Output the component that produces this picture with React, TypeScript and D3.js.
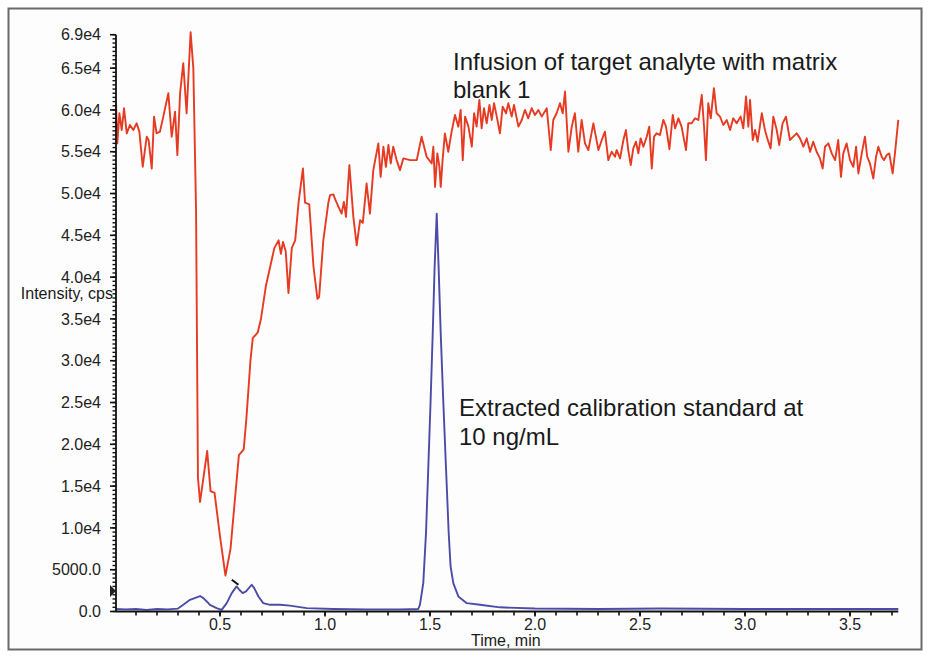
import React from 'react';
import * as d3 from 'd3';

// [time (min), intensity (thousand cps)]
const redTrace: [number, number][] = [
  [0.005, 60.8], [0.011, 56.0], [0.021, 59.6], [0.032, 57.6], [0.043, 60.2], [0.056, 57.2],
  [0.071, 58.2], [0.087, 57.6], [0.103, 58.4], [0.116, 57.4], [0.132, 53.2], [0.151, 56.8],
  [0.160, 56.4], [0.175, 53.0], [0.186, 59.2], [0.198, 57.2], [0.214, 57.4], [0.230, 59.2],
  [0.254, 62.0], [0.270, 56.8], [0.286, 59.8], [0.297, 54.6], [0.310, 62.0], [0.325, 65.6],
  [0.341, 59.6], [0.360, 69.3], [0.373, 65.0], [0.386, 48.0], [0.395, 16.0], [0.405, 13.1],
  [0.439, 19.2], [0.455, 14.4], [0.474, 14.2], [0.500, 9.0], [0.526, 4.3], [0.550, 7.5],
  [0.590, 18.7], [0.613, 19.4], [0.626, 23.2], [0.645, 30.0], [0.656, 32.7], [0.680, 33.4],
  [0.695, 35.0], [0.719, 39.0], [0.735, 40.8], [0.759, 43.5], [0.779, 44.4], [0.790, 42.8],
  [0.800, 44.2], [0.813, 43.1], [0.826, 38.1], [0.842, 43.5], [0.858, 44.4], [0.874, 48.9],
  [0.895, 53.0], [0.905, 48.9], [0.925, 48.7], [0.945, 41.3], [0.964, 37.4], [0.972, 37.6],
  [0.992, 44.4], [1.016, 48.9], [1.024, 49.8], [1.040, 49.9], [1.050, 49.2], [1.079, 47.6],
  [1.090, 49.0], [1.100, 47.2], [1.116, 53.4], [1.135, 47.2], [1.151, 43.8], [1.167, 46.8],
  [1.180, 46.5], [1.198, 51.2], [1.214, 47.6], [1.230, 52.8], [1.254, 56.0], [1.265, 52.0],
  [1.278, 55.6], [1.290, 53.2], [1.302, 55.8], [1.313, 53.6], [1.325, 55.6], [1.341, 54.0],
  [1.357, 52.8], [1.373, 54.2], [1.405, 54.0], [1.437, 54.0], [1.460, 56.8], [1.484, 54.4],
  [1.508, 53.6], [1.516, 55.6], [1.524, 50.8], [1.535, 54.8], [1.545, 53.2], [1.551, 50.8],
  [1.560, 54.0], [1.571, 57.2], [1.587, 55.0], [1.603, 57.4], [1.619, 59.4], [1.635, 58.0],
  [1.646, 60.0], [1.656, 54.0], [1.667, 59.2], [1.683, 58.0], [1.699, 55.6], [1.710, 59.6],
  [1.722, 58.0], [1.735, 61.2], [1.746, 57.8], [1.757, 60.2], [1.770, 58.4], [1.783, 60.6],
  [1.794, 58.8], [1.805, 60.8], [1.818, 59.2], [1.833, 57.2], [1.846, 60.4], [1.862, 59.6],
  [1.873, 60.8], [1.889, 59.2], [1.900, 60.6], [1.921, 58.0], [1.937, 58.8], [1.952, 60.0],
  [1.968, 59.0], [1.984, 60.2], [2.000, 59.4], [2.016, 60.0], [2.032, 59.2], [2.056, 60.2],
  [2.075, 55.2], [2.087, 58.8], [2.103, 59.6], [2.119, 60.8], [2.132, 59.6], [2.143, 62.2],
  [2.159, 55.0], [2.175, 58.0], [2.190, 59.6], [2.206, 55.0], [2.222, 58.8], [2.238, 56.0],
  [2.254, 55.2], [2.278, 58.4], [2.302, 55.2], [2.318, 56.4], [2.333, 57.4], [2.349, 54.0],
  [2.365, 55.0], [2.381, 54.4], [2.389, 55.2], [2.405, 54.2], [2.421, 56.4], [2.433, 57.6],
  [2.444, 55.2], [2.456, 53.4], [2.468, 55.4], [2.481, 56.2], [2.492, 54.8], [2.503, 56.6],
  [2.516, 55.6], [2.532, 56.8], [2.544, 58.0], [2.556, 53.0], [2.567, 56.8], [2.579, 57.2],
  [2.595, 57.0], [2.611, 58.8], [2.624, 58.0], [2.640, 55.3], [2.656, 59.4], [2.667, 57.8],
  [2.683, 59.0], [2.698, 58.0], [2.719, 55.2], [2.730, 58.4], [2.746, 58.4], [2.762, 59.0],
  [2.778, 58.8], [2.794, 61.8], [2.805, 58.0], [2.814, 54.0], [2.825, 60.8], [2.837, 59.0],
  [2.852, 62.6], [2.865, 59.6], [2.881, 59.2], [2.897, 58.2], [2.913, 58.8], [2.929, 57.6],
  [2.944, 59.0], [2.960, 58.4], [2.979, 59.2], [2.992, 57.8], [3.005, 61.6], [3.016, 58.0],
  [3.024, 61.2], [3.037, 56.4], [3.048, 57.6], [3.060, 56.2], [3.080, 59.6], [3.095, 57.6],
  [3.106, 56.6], [3.122, 55.4], [3.135, 59.2], [3.151, 57.6], [3.163, 55.8], [3.179, 58.4],
  [3.195, 59.2], [3.214, 56.4], [3.230, 56.8], [3.246, 57.2], [3.262, 56.6], [3.278, 55.6],
  [3.294, 56.6], [3.310, 55.0], [3.325, 56.2], [3.341, 55.0], [3.357, 54.2], [3.370, 53.0],
  [3.381, 55.6], [3.397, 56.0], [3.413, 54.8], [3.429, 54.0], [3.444, 56.4], [3.457, 52.0],
  [3.468, 54.8], [3.484, 56.0], [3.500, 54.0], [3.516, 53.2], [3.529, 55.6], [3.540, 52.4],
  [3.556, 54.8], [3.571, 56.8], [3.582, 54.4], [3.595, 53.6], [3.611, 51.8], [3.624, 54.4],
  [3.635, 55.6], [3.651, 54.4], [3.662, 54.0], [3.675, 54.6], [3.687, 54.8], [3.703, 52.4],
  [3.714, 54.8], [3.730, 58.8],
];

const blueTrace: [number, number][] = [
  [0.005, 0.3], [0.05, 0.25], [0.10, 0.3], [0.15, 0.2], [0.20, 0.3], [0.25, 0.25], [0.30, 0.35],
  [0.325, 0.8], [0.357, 1.4], [0.389, 1.7], [0.405, 1.85], [0.421, 1.6], [0.437, 1.2],
  [0.452, 0.8], [0.484, 0.4], [0.508, 0.2], [0.532, 1.0], [0.556, 2.2], [0.579, 3.0],
  [0.592, 2.6], [0.608, 2.2], [0.624, 2.4], [0.651, 3.2], [0.663, 2.8], [0.683, 1.8],
  [0.706, 1.0], [0.738, 0.8], [0.786, 0.8], [0.833, 0.7], [0.913, 0.4], [1.04, 0.3],
  [1.2, 0.25], [1.357, 0.25], [1.444, 0.3], [1.452, 0.8], [1.468, 3.4], [1.481, 9.4],
  [1.492, 17.3], [1.503, 25.3], [1.513, 33.3], [1.522, 41.2], [1.532, 47.6], [1.541, 41.2],
  [1.551, 33.3], [1.563, 25.3], [1.576, 17.3], [1.589, 9.4], [1.598, 5.4], [1.611, 3.4],
  [1.635, 1.8], [1.675, 1.0], [1.738, 0.8], [1.833, 0.5], [2.0, 0.35], [2.3, 0.3],
  [2.6, 0.35], [3.0, 0.3], [3.4, 0.3], [3.73, 0.3],
];

// small black apex marker near the blue peak at ~0.57 min
const apexMark: [number, number][] = [[0.556, 3.8], [0.588, 3.2]];
const thresholdLevel = 2.45;

const yMajorTicks = [0, 5, 10, 15, 20, 25, 30, 35, 40, 45, 50, 55, 60, 65, 69];
const yTickLabels = ['0.0', '5000.0', '1.0e4', '1.5e4', '2.0e4', '2.5e4', '3.0e4', '3.5e4',
  '4.0e4', '4.5e4', '5.0e4', '5.5e4', '6.0e4', '6.5e4', '6.9e4'];
const xMajorTicks = [0.5, 1.0, 1.5, 2.0, 2.5, 3.0, 3.5];
const xTickLabels = ['0.5', '1.0', '1.5', '2.0', '2.5', '3.0', '3.5'];

const WIDTH = 930;
const HEIGHT = 658;
const FONT = '"Liberation Sans", Arial, sans-serif';

const xScale = d3.scaleLinear().domain([0, 3.73]).range([115, 898.3]);
const yScale = d3.scaleLinear().domain([0, 69]).range([611.5, 34.7]);

const App = () => {
  const line = d3.line<[number, number]>()
    .x(d => xScale(d[0]))
    .y(d => yScale(d[1]));

  const ax = xScale(0) + 1;
  const ay = yScale(0);
  const yMinor = d3.range(0, 69.01, 0.5);
  const xMinor = d3.range(0.1, 3.75, 0.1);
  const ty = yScale(thresholdLevel);

  return (
    <svg width={WIDTH} height={HEIGHT} style={{ position: 'absolute', left: 0, top: 0, background: '#fff' }}>
      <rect x={8.5} y={8.5} width={913} height={641} fill="#fdfdfd" stroke="#6a6a6a" strokeWidth={2} />
      <path d={line(redTrace) || ''} fill="none" stroke="#e63a22" strokeWidth={1.9} strokeLinejoin="round" />
      <path d={line(blueTrace) || ''} fill="none" stroke="#4c4ca8" strokeWidth={1.9} strokeLinejoin="round" />
      <path d={line(apexMark) || ''} fill="none" stroke="#111" strokeWidth={2} />

      {/* y axis */}
      <g stroke="#111">
        <line x1={ax} x2={ax} y1={yScale(69)} y2={ay} strokeWidth={1.8} />
        {yMinor.map(v => (
          <line key={`ym${v}`} x1={ax - 3.5} x2={ax} y1={yScale(v)} y2={yScale(v)} strokeWidth={1.4} />
        ))}
        {yMajorTicks.map(v => (
          <line key={`yM${v}`} x1={ax - 6} x2={ax} y1={yScale(v)} y2={yScale(v)} strokeWidth={1.6} />
        ))}
      </g>
      {/* x axis */}
      <g stroke="#111">
        <line x1={ax} x2={xScale(3.73)} y1={ay} y2={ay} strokeWidth={1.8} />
        {xMinor.map(v => (
          <line key={`xm${v}`} x1={xScale(v)} x2={xScale(v)} y1={ay} y2={ay + 4} strokeWidth={1.6} />
        ))}
        {xMajorTicks.map(v => (
          <line key={`xM${v}`} x1={xScale(v)} x2={xScale(v)} y1={ay} y2={ay + 5} strokeWidth={1.6} />
        ))}
      </g>
      <path d={`M${ax - 6},${ty - 6}L${ax},${ty}L${ax - 6},${ty + 6}Z`} fill="#222" />

      <g fontFamily={FONT} fill="#222" fontSize={16}>
        {yMajorTicks.map((v, i) => (
          <text key={`yl${v}`} x={ax - 15} y={yScale(v)} dy="0.35em" textAnchor="end">{yTickLabels[i]}</text>
        ))}
        {xMajorTicks.map((v, i) => (
          <text key={`xl${v}`} x={xScale(v)} y={ay + 18.5} textAnchor="middle">{xTickLabels[i]}</text>
        ))}
      </g>

      <g fontFamily={FONT} fill="#1a1a1a">
        <text x={113} y={299} fontSize={16} textAnchor="end">Intensity, cps</text>
        <text x={471} y={646} fontSize={16}>Time, min</text>
        <text x={453} y={70} fontSize={24}>Infusion of target analyte with matrix</text>
        <text x={453} y={98} fontSize={24}>blank 1</text>
        <text x={459} y={416} fontSize={24}>Extracted calibration standard at</text>
        <text x={459} y={445} fontSize={24}>10 ng/mL</text>
      </g>
    </svg>
  );
};

export default App;
